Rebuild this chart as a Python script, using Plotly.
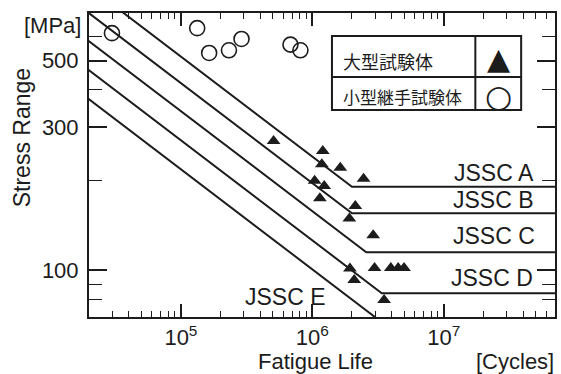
import math
import plotly.graph_objects as go

# ---- data ----
# large specimens (filled triangles)
big_N = [5.07e5, 1.20e6, 1.18e6, 1.63e6, 2.45e6, 1.04e6, 1.23e6, 1.14e6, 2.12e6,
         1.91e6, 2.90e6, 1.93e6, 2.08e6, 2.97e6, 3.95e6, 4.49e6, 4.98e6, 3.51e6]
big_S = [270, 250, 226, 220, 202, 199, 191, 174, 164,
         149, 131, 101.6, 92.9, 102, 102, 102, 102, 79.7]

# small joint specimens (open circles)
small_N = [2.99e4, 1.33e5, 1.64e5, 2.32e5, 2.89e5, 6.81e5, 8.11e5]
small_S = [617, 641, 530, 541, 590, 565, 541]

# JSSC design curves (vertices)
curve_names = ["JSSC A", "JSSC B", "JSSC C", "JSSC D", "JSSC E"]
curve_N = [[1e4, 2e6, 7e7],
           [1e4, 2e6, 7e7],
           [1e4, 2.57e6, 7e7],
           [1e4, 3.37e6, 7e7],
           [1e4, 2e6, 4.3e6]]
curve_S = [[1110, 190, 190],
           [906, 155, 155],
           [731, 115, 115],
           [585, 84, 84],
           [468, 80, 62]]

x_major = [1e5, 1e6, 1e7]
x_major_text = ["10<sup>5</sup>", "10<sup>6</sup>", "10<sup>7</sup>"]
x_minor = [d * 10 ** e for e in (4, 5, 6, 7) for d in range(2, 10) if 2e4 <= d * 10 ** e <= 7e7]
y_major = [100, 300, 500]
y_major_text = ["100", "300", "500"]
y_minor = [80, 90, 200, 400, 600]

legend_labels = ["大型試験体", "小型継手試験体"]

INK = "#1c1c1c"
FONT = "Liberation Sans, Arial, Helvetica, sans-serif"

fig = go.Figure()
for name, xs, ys in zip(curve_names, curve_N, curve_S):
    fig.add_trace(go.Scatter(x=xs, y=ys, mode="lines", name=name,
                             line=dict(color=INK, width=2), showlegend=False))

fig.add_trace(go.Scatter(x=small_N, y=small_S, mode="markers", showlegend=False,
                         marker=dict(symbol="circle-open", size=15, color=INK,
                                     line=dict(width=1.6, color=INK))))
fig.add_trace(go.Scatter(x=big_N, y=big_S, mode="markers", showlegend=False,
                         marker=dict(symbol="triangle-up", size=12, color=INK,
                                     line=dict(width=0))))

axis_common = dict(type="log", showgrid=False, zeroline=False, showline=True,
                   linecolor=INK, linewidth=2, mirror="ticks", ticks="inside",
                   tickcolor=INK, tickwidth=1.6,
                   tickfont=dict(family=FONT, size=22, color=INK))

fig.update_xaxes(**axis_common, range=[math.log10(2e4), math.log10(7e7)],
                 tickvals=x_major, ticktext=x_major_text, ticklen=13,
                 ticklabelstandoff=0,
                 minor=dict(tickvals=x_minor, ticks="inside", ticklen=6,
                            tickwidth=1.4, tickcolor=INK, showgrid=False))
fig.update_yaxes(**axis_common, range=[math.log10(70), math.log10(720)],
                 tickvals=y_major, ticktext=y_major_text, ticklen=18,
                 ticklabelstandoff=4,
                 minor=dict(tickvals=y_minor, ticks="inside", ticklen=13,
                            tickwidth=1.4, tickcolor=INK, showgrid=False))


def px_x(p):
    return (p - 89) / 468


def px_y(p):
    return (317 - p) / 304


annotations = []
# curve labels (right-aligned)
label_pos = [(538, 173), (538, 200), (539, 236), (537, 278)]
for name, (px, py) in zip(curve_names[:4], label_pos):
    annotations.append(dict(x=px_x(px), y=px_y(py), xref="paper", yref="paper", text=name,
                            xanchor="right", yanchor="middle", showarrow=False,
                            font=dict(family=FONT, size=23, color=INK)))
annotations.append(dict(x=px_x(244), y=px_y(297), xref="paper", yref="paper", text=curve_names[4],
                        xanchor="left", yanchor="middle", showarrow=False,
                        font=dict(family=FONT, size=23, color=INK)))
# axis titles
annotations.append(dict(x=px_x(22), y=px_y(138), xref="paper", yref="paper", text="Stress Range",
                        showarrow=False, textangle=-90, xanchor="center", yanchor="middle",
                        font=dict(family=FONT, size=23, color=INK)))
annotations.append(dict(x=px_x(316), y=px_y(361), xref="paper", yref="paper", text="Fatigue Life",
                        showarrow=False, xanchor="center", yanchor="middle",
                        font=dict(family=FONT, size=22, color=INK)))
annotations.append(dict(x=px_x(558), y=px_y(361), xref="paper", yref="paper", text="[Cycles]",
                        showarrow=False, xanchor="right", yanchor="middle",
                        font=dict(family=FONT, size=22, color=INK)))
annotations.append(dict(x=px_x(83), y=px_y(25), xref="paper", yref="paper", text="[MPa]",
                        showarrow=False, xanchor="right", yanchor="middle",
                        font=dict(family=FONT, size=22, color=INK)))
# legend table text
annotations.append(dict(x=px_x(342), y=px_y(61), xref="paper", yref="paper", text=legend_labels[0],
                        showarrow=False, xanchor="left", yanchor="middle",
                        font=dict(family="Noto Sans CJK JP", size=18, color=INK)))
annotations.append(dict(x=px_x(342), y=px_y(96), xref="paper", yref="paper", text=legend_labels[1],
                        showarrow=False, xanchor="left", yanchor="middle",
                        font=dict(family="Noto Sans CJK JP", size=17, color=INK)))
annotations.append(dict(x=px_x(500), y=px_y(58), xref="paper", yref="paper", text="▲",
                        showarrow=False, xanchor="center", yanchor="middle",
                        font=dict(family="DejaVu Sans", size=30, color=INK)))
annotations.append(dict(x=px_x(500), y=px_y(96), xref="paper", yref="paper", text="○",
                        showarrow=False, xanchor="center", yanchor="middle",
                        font=dict(family="DejaVu Sans", size=31, color=INK)))

shapes = [
    dict(type="rect", xref="paper", yref="paper", x0=px_x(333), x1=px_x(523),
         y0=px_y(110), y1=px_y(36),
         line=dict(color=INK, width=2), fillcolor="white", layer="above"),
    dict(type="line", xref="paper", yref="paper", x0=px_x(333), x1=px_x(523),
         y0=px_y(77), y1=px_y(77), line=dict(color=INK, width=2)),
    dict(type="line", xref="paper", yref="paper", x0=px_x(477), x1=px_x(477),
         y0=px_y(110), y1=px_y(36), line=dict(color=INK, width=2)),
]

fig.update_layout(width=561, height=374, margin=dict(l=89, r=4, t=13, b=57),
                  paper_bgcolor="white", plot_bgcolor="white",
                  annotations=annotations, shapes=shapes, showlegend=False)

fig.write_html("out.html")
